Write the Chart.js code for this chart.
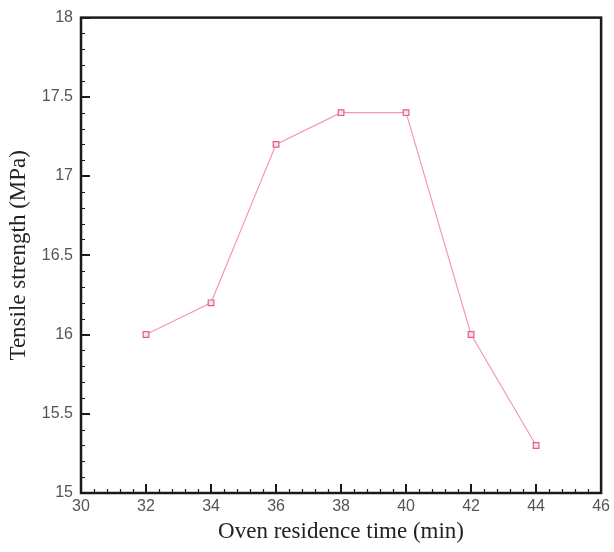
<!DOCTYPE html>
<html>
<head>
<meta charset="utf-8">
<script src="https://cdn.jsdelivr.net/npm/chart.js@4.4.1/dist/chart.umd.min.js"></script>
<style>
  html, body { margin: 0; padding: 0; background: #fff; }
  #wrap { width: 614px; height: 552px; }
</style>
</head>
<body>
<div id="wrap"><canvas id="tensile-chart" width="614" height="552"></canvas></div>
<script>
// oven residence time vs tensile strength
const times = [32, 34, 36, 38, 40, 42, 44];
const strength = [16.0, 16.2, 17.2, 17.4, 17.4, 16.0, 15.3];
const xTicks = [30, 32, 34, 36, 38, 40, 42, 44, 46];
const yTicks = [15, 15.5, 16, 16.5, 17, 17.5, 18];

// frame + inward ticks (major and minor), like the original plot
const frameTicks = {
  id: 'frameTicks',
  afterDraw(chart) {
    const { ctx, chartArea: { top, bottom, left, right }, scales: { x, y } } = chart;
    ctx.save();
    ctx.strokeStyle = '#1a1a1a';
    ctx.lineWidth = 1.2;
    ctx.beginPath();
    // minor x ticks, 4 between majors
    for (let i = 0; i < xTicks.length - 1; i++) {
      const a = xTicks[i], b = xTicks[i + 1];
      for (let k = 1; k < 5; k++) {
        const px = Math.round(x.getPixelForValue(a + (b - a) * k / 5)) + 0.5;
        ctx.moveTo(px, bottom);
        ctx.lineTo(px, bottom - 4);
      }
    }
    for (let i = 0; i < yTicks.length - 1; i++) {
      const a = yTicks[i], b = yTicks[i + 1];
      for (let k = 1; k < 5; k++) {
        const py = Math.round(y.getPixelForValue(a + (b - a) * k / 5)) + 0.5;
        ctx.moveTo(left, py);
        ctx.lineTo(left + 4, py);
      }
    }
    ctx.stroke();
    ctx.lineWidth = 2;
    ctx.beginPath();
    xTicks.forEach(v => {
      const px = Math.round(x.getPixelForValue(v));
      ctx.moveTo(px, bottom);
      ctx.lineTo(px, bottom - 9);
    });
    yTicks.forEach(v => {
      const py = Math.round(y.getPixelForValue(v));
      ctx.moveTo(left, py);
      ctx.lineTo(left + 9, py);
    });
    ctx.stroke();
    ctx.lineWidth = 2.5;
    ctx.strokeRect(left, top, right - left, bottom - top);
    ctx.restore();
  }
};

const tensileCtx = document.getElementById('tensile-chart').getContext('2d');
const tensileConfig = {
  type: 'line',
  data: {
    datasets: [{
      data: times.map((t, i) => ({ x: t, y: strength[i] })),
      borderColor: '#f29aae',
      borderWidth: 1.2,
      pointStyle: 'rect',
      pointRadius: 4,
      pointBorderColor: '#e0607e',
      pointBackgroundColor: '#fbe3ea',
      pointBorderWidth: 1.2,
      tension: 0
    }]
  },
  options: {
    responsive: false,
    animation: false,
    layout: { padding: { top: 16, right: 12, left: 0, bottom: 0 } },
    scales: {
      x: {
        type: 'linear',
        min: 30,
        max: 46,
        afterBuildTicks: (s) => { s.ticks = xTicks.map(v => ({ value: v })); },
        afterFit: (s) => { s.height = 59; },
        grid: { display: false, drawTicks: false },
        border: { display: false },
        ticks: {
          color: '#555',
          padding: 4,
          font: { family: 'Liberation Sans', size: 16 }
        },
        title: {
          display: true,
          text: 'Oven residence time (min)',
          color: '#222',
          padding: { top: 2, bottom: 6 },
          font: { family: 'Liberation Serif', size: 23 }
        }
      },
      y: {
        min: 15,
        max: 18,
        afterBuildTicks: (s) => { s.ticks = yTicks.map(v => ({ value: v })); },
        afterFit: (s) => { s.width = 81; },
        grid: { display: false, drawTicks: false },
        border: { display: false },
        ticks: {
          color: '#555',
          padding: 8,
          font: { family: 'Liberation Sans', size: 16 },
          callback: (v) => `${v}`
        },
        title: {
          display: true,
          text: 'Tensile strength (MPa)',
          color: '#222',
          padding: { top: 5, bottom: 0 },
          font: { family: 'Liberation Serif', size: 23 }
        }
      }
    },
    plugins: {
      legend: { display: false },
      tooltip: { enabled: false }
    }
  },
  plugins: [frameTicks]
};
const tensileChart = new Chart(tensileCtx, tensileConfig);
</script>
</body>
</html>
